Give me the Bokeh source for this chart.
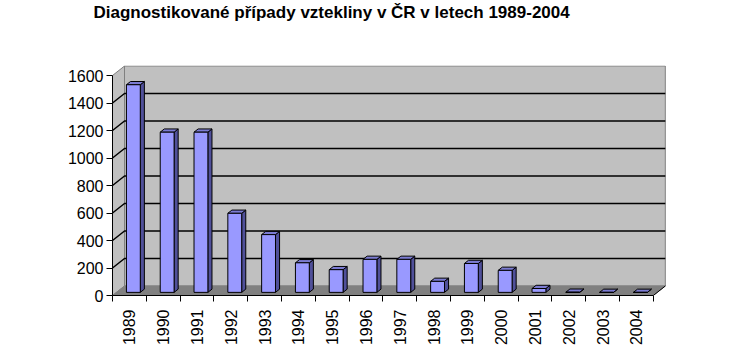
import math
from bokeh.plotting import figure
from bokeh.models import FixedTicker, Range1d, Title
from bokeh.embed import file_html
from bokeh.resources import INLINE

# ---- data ----
years = ["1989", "1990", "1991", "1992", "1993", "1994", "1995", "1996",
         "1997", "1998", "1999", "2000", "2001", "2002", "2003", "2004"]
cases = [1510, 1165, 1165, 575, 420, 215, 165, 240, 240, 80, 210, 160, 28, 1, 0, 0]
y_ticks = [0, 200, 400, 600, 800, 1000, 1200, 1400, 1600]
title_text = "Diagnostikované případy vztekliny v ČR v letech 1989-2004"

# ---- layout (pixels) ----
W, H = 740, 352
FL, FR, FT, FB = 112, 666, 65, 295     # frame edges
CAT_PX = 33.8                          # px per category
Y_TOP = max(y_ticks)
PXY = 220.0 / Y_TOP                    # px per value unit
n = len(years)

x_start = -0.5
x_end = x_start + (FR - FL) / CAT_PX
y_end = (FB - FT) / PXY

DX = 12.0 / CAT_PX                     # 3D depth offsets in data units
DY = 9.5 / PXY

p = figure(width=W, height=H, x_range=Range1d(x_start, x_end), y_range=Range1d(0, y_end),
           output_backend="svg", toolbar_location=None,
           min_border_left=FL, min_border_right=W - FR, min_border_top=FT, min_border_bottom=H - FB,
           background_fill_color="white", border_fill_color="white", outline_line_color=None)
p.xgrid.visible = False
p.ygrid.visible = False

# title: a blank spacer panel next to the frame, the real title above it
p.title = None
p.add_layout(Title(text=" ", text_font_size="17px", standoff=19), "above")
p.add_layout(Title(text=title_text, align="left", offset=93 - FL, vertical_align="top",
                   standoff=4, text_font="Liberation Sans", text_font_style="bold",
                   text_font_size="17px", text_color="black"), "above")

x_right = x_start + n

# back wall
p.patch([x_start + DX, x_right + DX, x_right + DX, x_start + DX],
        [DY, DY, Y_TOP + DY, Y_TOP + DY],
        fill_color="#c0c0c0", line_color="#808080", line_width=1)
# side wall
p.patch([x_start, x_start + DX, x_start + DX, x_start],
        [0, DY, Y_TOP + DY, Y_TOP],
        fill_color="#c0c0c0", line_color="#808080", line_width=1)
# floor
p.patch([x_start, x_right, x_right + DX, x_start + DX],
        [0, 0, DY, DY],
        fill_color="#808080", line_color="#808080", line_width=1)

# gridlines (back wall + side wall)
gx, gy = [], []
for v in y_ticks[1:-1]:
    gx.append([x_start, x_start + DX, x_right + DX])
    gy.append([v, v + DY, v + DY])
p.multi_line(gx, gy, line_color="black", line_width=1.5)

# right bottom diagonal edge of axis
p.line([x_right, x_right + DX], [0, DY], line_color="black", line_width=1)

# bars
BZ0, BZ1 = 0.33, 0.67
BW = 0.41
ddx = (BZ1 - BZ0) * DX
ddy = (BZ1 - BZ0) * DY
fx, fy, sx, sy, tx, ty = [], [], [], [], [], []
for i, v in enumerate(cases):
    cx = i + BZ0 * DX
    x0, x1 = cx - BW / 2, cx + BW / 2
    b = BZ0 * DY
    t = v + b
    fx.append([x0, x1, x1, x0]); fy.append([b, b, t, t])
    sx.append([x1, x1 + ddx, x1 + ddx, x1]); sy.append([b, b + ddy, t + ddy, t])
    tx.append([x0, x1, x1 + ddx, x0 + ddx]); ty.append([t, t, t + ddy, t + ddy])
p.patches(sx, sy, fill_color="#50509a", line_color="black", line_width=1)
p.patches(tx, ty, fill_color="#7b7bd2", line_color="black", line_width=1)
p.patches(fx, fy, fill_color="#9999ff", line_color="black", line_width=1)

# y axis
ya = p.yaxis[0]
ya.ticker = FixedTicker(ticks=y_ticks)
ya.bounds = (0, Y_TOP)
ya.axis_line_color = "black"
ya.major_tick_line_color = "black"
ya.major_tick_out = 6
ya.major_tick_in = 0
ya.minor_tick_line_color = None
ya.major_label_standoff = 3
ya.major_label_text_font = "Liberation Sans"
ya.major_label_text_font_size = "16px"
ya.major_label_text_color = "black"

# x axis
xa = p.xaxis[0]
xa.ticker = FixedTicker(ticks=list(range(n)), minor_ticks=[i - 0.5 for i in range(n + 1)])
xa.bounds = (x_start, x_right)
xa.major_label_overrides = {i: y for i, y in enumerate(years)}
xa.major_label_orientation = math.pi / 2
xa.axis_line_color = "black"
xa.major_tick_line_color = None
xa.major_tick_out = 0
xa.major_tick_in = 0
xa.minor_tick_line_color = "black"
xa.minor_tick_out = 6
xa.minor_tick_in = 0
xa.major_label_standoff = 8
xa.major_label_text_font = "Liberation Sans"
xa.major_label_text_font_size = "16px"
xa.major_label_text_color = "black"

open("out.html", "w").write(file_html(p, INLINE))
